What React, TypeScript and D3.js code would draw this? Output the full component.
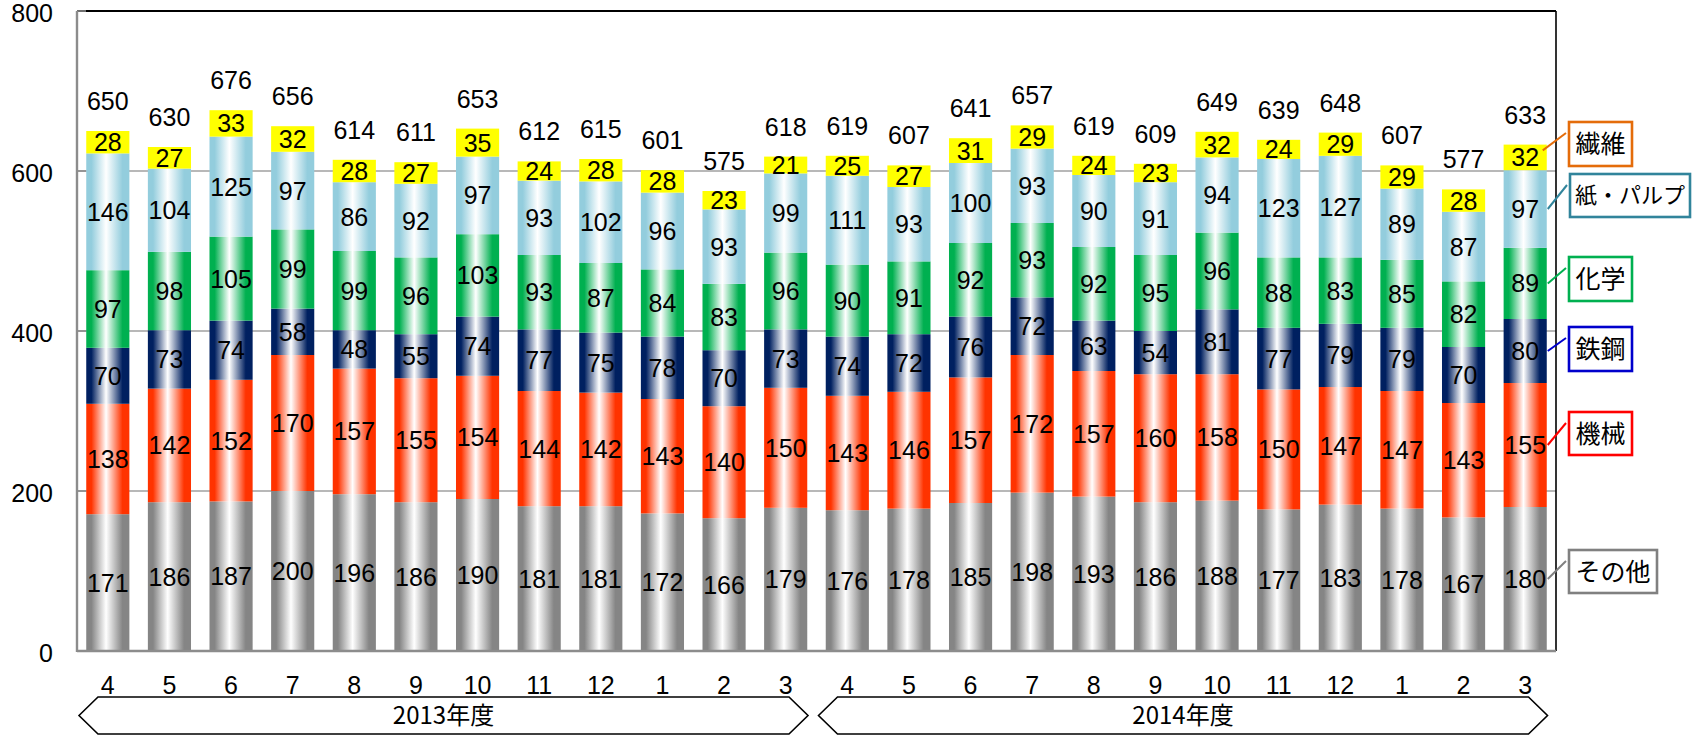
import React from "react";
import * as d3 from "d3";

const months = ["4","5","6","7","8","9","10","11","12","1","2","3","4","5","6","7","8","9","10","11","12","1","2","3"];
const fiscalYears = ["2013年度", "2014年度"];
const yTicks = [0, 200, 400, 600, 800];

const seriesNames = ["その他", "機械", "鉄鋼", "化学", "紙・パルプ", "繊維"];
const others = [171,186,187,200,196,186,190,181,181,172,166,179,176,178,185,198,193,186,188,177,183,178,167,180];
const machinery = [138,142,152,170,157,155,154,144,142,143,140,150,143,146,157,172,157,160,158,150,147,147,143,155];
const steel = [70,73,74,58,48,55,74,77,75,78,70,73,74,72,76,72,63,54,81,77,79,79,70,80];
const chemical = [97,98,105,99,99,96,103,93,87,84,83,96,90,91,92,93,92,95,96,88,83,85,82,89];
const paper = [146,104,125,97,86,92,97,93,102,96,93,99,111,93,100,93,90,91,94,123,127,89,87,97];
const textile = [28,27,33,32,28,27,35,24,28,28,23,21,25,27,31,29,24,23,32,24,29,29,28,32];
const totals = [650,630,676,656,614,611,653,612,615,601,575,618,619,607,641,657,619,609,649,639,648,607,577,633];

const seriesValues = [others, machinery, steel, chemical, paper, textile];
const fillColors = ["#858585", "#FF3300", "#002060", "#00B050", "#93CDDD", "#FFFF00"];
const gradientOn = [true, true, true, true, true, false];
const legendColors = ["#808080", "#FF0000", "#0000CC", "#00B050", "#31849B", "#E46C0A"];

const W = 1695, H = 736;
const left = 77, right = 1556, top = 11, bottom = 651;
const FONT = "'Liberation Sans', Arial, 'Noto Sans CJK JP', sans-serif";
const JFONT = "'Noto Sans CJK JP', 'Liberation Sans', sans-serif";
const FS = 25;

export default function App() {
  const idx = months.map((_, i) => i);
  const x = d3.scaleBand<number>().domain(idx).range([left, right]).paddingInner(0.3).paddingOuter(0.15);
  const y = d3.scaleLinear().domain([0, 800]).range([bottom, top]);

  const rows = idx.map((i) => {
    const r: any = { i };
    seriesNames.forEach((k, s) => (r[k] = seriesValues[s][i]));
    return r;
  });
  const stacked = d3.stack<any>().keys(seriesNames)(rows);
  const bw = x.bandwidth();
  const step = x.step();

  // legend boxes: [x, y, w, h, font size]
  const legendBoxes: Record<string, [number, number, number, number, number]> = {
    "繊維": [1569, 122, 63, 44, 25],
    "紙・パルプ": [1570, 174, 120, 43, 22],
    "化学": [1569, 257, 63, 44, 25],
    "鉄鋼": [1569, 327, 63, 44, 25],
    "機械": [1569, 412, 63, 43, 25],
    "その他": [1569, 550, 88, 43, 25],
  };

  const last = months.length - 1;
  const lastRight = (x(last) as number) + bw;

  const bracket = (k: number) => {
    const x0 = left + k * 12 * step + 2;
    const x1 = x0 + 12 * step - 10.5;
    const t = 697, b = 734, m = (t + b) / 2, d = 19;
    return { path: `M${x0},${m} L${x0 + d},${t} L${x1 - d},${t} L${x1},${m} L${x1 - d},${b} L${x0 + d},${b} Z`, cx: (x0 + x1) / 2, cy: m };
  };

  return (
    <svg width={W} height={H} style={{ position: "absolute", left: 0, top: 0, background: "#fff" }}>
      <defs>
        {fillColors.map((c, s) => (
          <linearGradient key={s} id={`g${s}`} x1="0" x2="1" y1="0" y2="0">
            <stop offset="0" stopColor={c} />
            <stop offset="0.12" stopColor={c} />
            <stop offset="0.46" stopColor="#ffffff" />
            <stop offset="0.84" stopColor={c} />
            <stop offset="1" stopColor={c} />
          </linearGradient>
        ))}
      </defs>

      {yTicks.filter((t) => t > 0 && t < 800).map((t) => (
        <line key={t} x1={left} x2={right} y1={y(t)} y2={y(t)} stroke="#A0A0A0" strokeWidth={1.6} />
      ))}

      {stacked.map((layer, s) => (
        <g key={s}>
          {layer.map((d, i) => (
            <rect key={i} x={x(i)} y={y(d[1])} width={bw} height={y(d[0]) - y(d[1])}
              fill={gradientOn[s] ? `url(#g${s})` : fillColors[s]} />
          ))}
        </g>
      ))}

      {stacked.map((layer, s) => (
        <g key={`l${s}`}>
          {layer.map((d, i) => (
            <text key={i} x={(x(i) as number) + bw / 2} y={(y(d[0]) + y(d[1])) / 2 + FS * 0.36}
              textAnchor="middle" fontSize={FS} fontFamily={FONT} fill="#000">
              {seriesValues[s][i]}
            </text>
          ))}
        </g>
      ))}

      {totals.map((t, i) => (
        <text key={i} x={(x(i) as number) + bw / 2} y={y(t) - 21} textAnchor="middle" fontSize={FS} fontFamily={FONT} fill="#000">
          {t}
        </text>
      ))}

      <line x1={left} x2={right} y1={top} y2={top} stroke="#000" strokeWidth={2} />
      <line x1={right} x2={right} y1={top} y2={bottom} stroke="#000" strokeWidth={1.6} />
      <line x1={left} x2={left} y1={top} y2={bottom + 1} stroke="#8C8C8C" strokeWidth={2.4} />
      <line x1={left} x2={right} y1={bottom} y2={bottom} stroke="#8C8C8C" strokeWidth={2.4} />
      {yTicks.map((t) => (
        <line key={`t${t}`} x1={left} x2={left + 9} y1={y(t)} y2={y(t)} stroke="#8C8C8C" strokeWidth={1.6} />
      ))}

      {yTicks.map((t) => (
        <text key={`yl${t}`} x={53} y={y(t) + 11} textAnchor="end" fontSize={FS} fontFamily={FONT} fill="#000">
          {t}
        </text>
      ))}

      {months.map((m, i) => (
        <text key={`m${i}`} x={(x(i) as number) + bw / 2} y={694} textAnchor="middle" fontSize={FS} fontFamily={FONT} fill="#000">
          {m}
        </text>
      ))}

      {fiscalYears.map((fy, k) => {
        const b = bracket(k);
        return (
          <g key={fy}>
            <path d={b.path} fill="#fff" stroke="#000" strokeWidth={1.6} />
            <text x={b.cx} y={b.cy + 8.5} textAnchor="middle" fontSize={24} fontFamily={JFONT} fill="#000">
              {fy}
            </text>
          </g>
        );
      })}

      {seriesNames.map((name, s) => {
        const [bx, by, bwid, bh, fs] = legendBoxes[name];
        const seg = stacked[s][last];
        const sy = (y(seg[0]) + y(seg[1])) / 2;
        const sx = s === 5 ? lastRight - 4 : lastRight + 1;
        const sy2 = s === 5 ? sy - 7 : sy;
        return (
          <g key={`lg${s}`}>
            <line x1={sx} y1={sy2} x2={bx - 3} y2={by + 11} stroke={legendColors[s]} strokeWidth={2} />
            <rect x={bx} y={by} width={bwid} height={bh} fill="#fff" stroke={legendColors[s]} strokeWidth={2.6} />
            <text x={bx + bwid / 2} y={by + bh / 2 + fs * 0.36} textAnchor="middle" fontSize={fs} fontFamily={JFONT} fill="#000">
              {name}
            </text>
          </g>
        );
      })}
    </svg>
  );
}
